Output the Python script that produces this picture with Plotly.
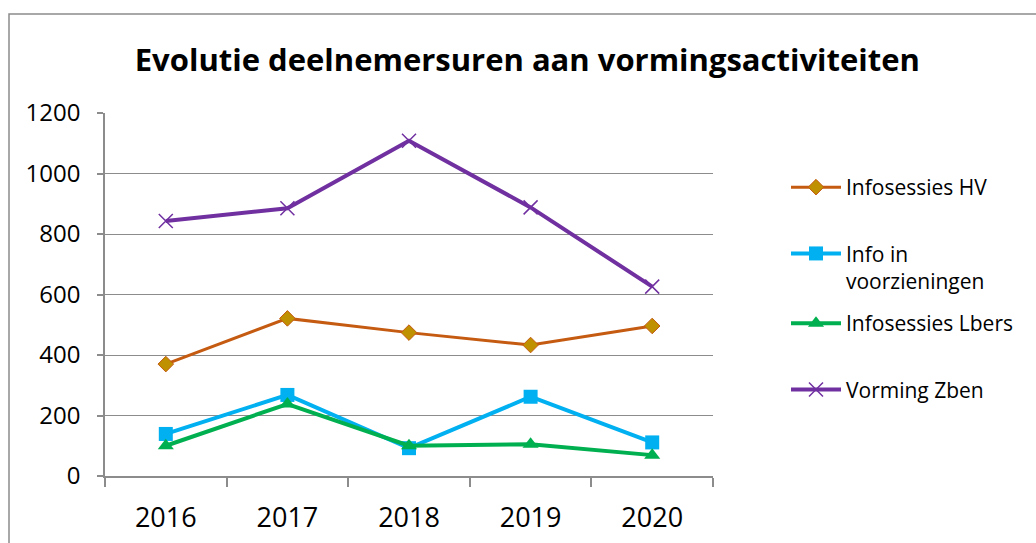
import plotly.graph_objects as go

years = ["2016", "2017", "2018", "2019", "2020"]
infosessies_hv = [370, 521, 474, 433, 496]
info_in_voorzieningen = [139, 268, 92, 262, 111]
infosessies_lbers = [100, 238, 100, 105, 69]
vorming_zben = [843, 885, 1108, 888, 626]

title_text = "Evolutie deelnemersuren aan vormingsactiviteiten"
y_ticks = [0, 200, 400, 600, 800, 1000, 1200]

FONT = "Open Sans"
GRID = "#8c8c8c"

fig = go.Figure()

fig.add_trace(go.Scatter(
    x=years, y=infosessies_hv, name="Infosessies HV", mode="lines+markers",
    line=dict(color="#C55A11", width=3),
    marker=dict(symbol="diamond", size=12, color="#BF9000", line=dict(color="#C55A11", width=1)),
    legendgroup="a", legend="legend"))
fig.add_trace(go.Scatter(
    x=years, y=info_in_voorzieningen, name="Info in<br>voorzieningen", mode="lines+markers",
    line=dict(color="#00B0F0", width=4),
    marker=dict(symbol="square", size=14, color="#00B0F0"),
    legendgroup="b", legend="legend"))
fig.add_trace(go.Scatter(
    x=years, y=infosessies_lbers, name="Infosessies Lbers", mode="lines+markers",
    line=dict(color="#00B050", width=4),
    marker=dict(symbol="triangle-up", size=14, color="#00B050"),
    legendgroup="c", legend="legend2"))
fig.add_trace(go.Scatter(
    x=years, y=vorming_zben, name="Vorming Zben", mode="lines+markers",
    line=dict(color="#7030A0", width=4),
    marker=dict(symbol="x-thin", size=14, line=dict(color="#7030A0", width=1.5)),
    legendgroup="d", legend="legend2"))

legend_common = dict(x=(786 - 105) / 608, xanchor="left", yanchor="top",
                     font=dict(size=21, family=FONT), traceorder="grouped",
                     tracegroupgap=36, valign="top", itemwidth=50,
                     bgcolor="rgba(0,0,0,0)")

fig.update_layout(
    width=1036, height=543,
    margin=dict(l=105, r=323, t=113, b=67),
    paper_bgcolor="white", plot_bgcolor="white",
    font=dict(family=FONT, color="black"),
    title=dict(text="<b>" + title_text + "</b>", x=0.509, xanchor="center",
               y=1 - 60 / 543, yanchor="middle", font=dict(size=31, family=FONT)),
    showlegend=True,
    legend=dict(y=1 - (167 - 113) / 363, **legend_common),
    legend2=dict(y=1 - (303 - 113) / 363, **legend_common),
    xaxis=dict(type="category", range=[-0.5, 4.5], showgrid=False,
               showline=True, linecolor=GRID, linewidth=1.5,
               ticks="outside", tickson="boundaries", ticklen=9, tickcolor=GRID, tickwidth=1.5,
               tickfont=dict(size=27, family=FONT), ticklabelstandoff=17, automargin=False),
    yaxis=dict(range=[0, 1200], tickvals=y_ticks, showgrid=True, gridcolor=GRID, gridwidth=1.3,
               showline=True, linecolor=GRID, linewidth=1.5, zeroline=False,
               ticks="outside", ticklen=6, tickcolor=GRID, tickwidth=1.5,
               tickfont=dict(size=24, family=FONT), ticklabelstandoff=12, automargin=False),
    shapes=[dict(type="rect", xref="paper", yref="paper",
                 x0=(9 - 105) / 608, x1=(1060 - 105) / 608,
                 y0=(476 - 560) / 363, y1=(476 - 14) / 363,
                 line=dict(color="#8c8c8c", width=1.5), fillcolor="rgba(0,0,0,0)",
                 layer="below")],
)

fig.write_html("out.html", config={"displayModeBar": False},
               post_script="document.body.style.margin='0';")
